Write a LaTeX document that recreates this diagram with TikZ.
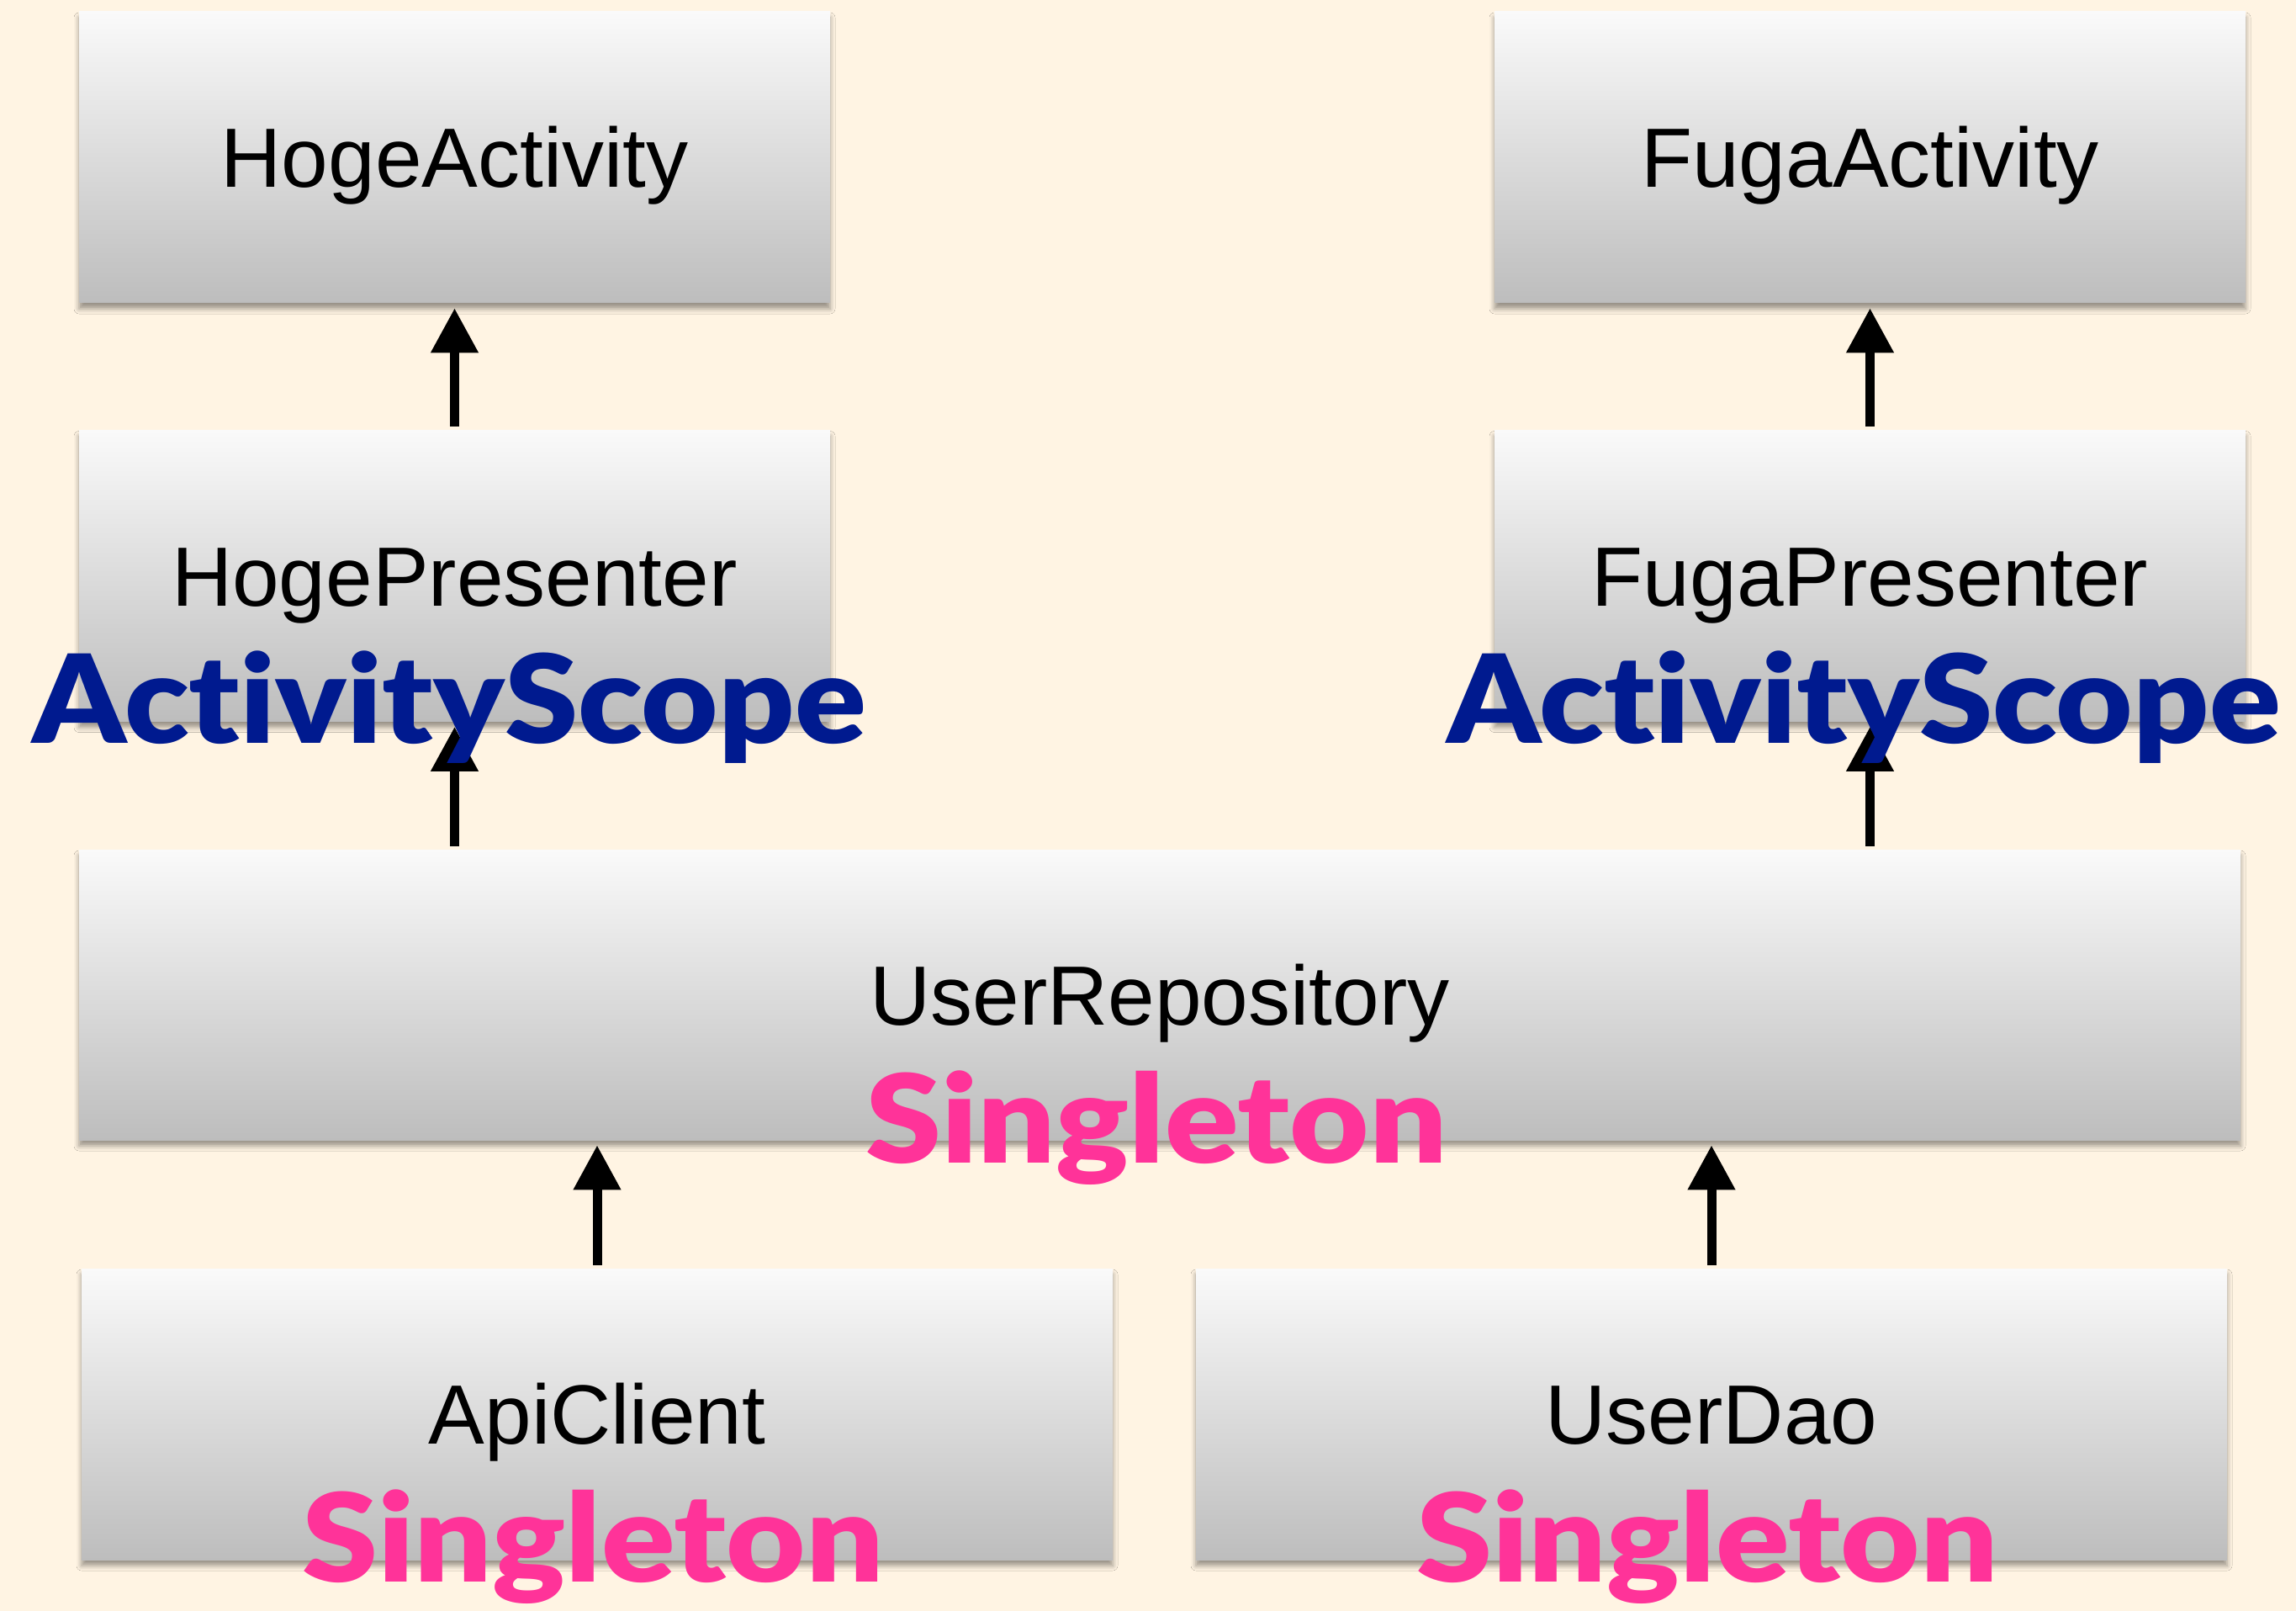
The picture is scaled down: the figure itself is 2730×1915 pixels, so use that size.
\documentclass[tikz,border=0pt]{standalone}
\usepackage{fontspec}
\setmainfont{Liberation Sans}
\newfontfamily\scopefont{Lato Black}[Ligatures=NoCommon, FakeStretch=1.08]
\newfontfamily\singlefont{Lato Black}[Ligatures=NoCommon, FakeStretch=1.115]
\usetikzlibrary{arrows.meta,shadows.blur}
\definecolor{paper}{RGB}{255,244,227}
\definecolor{boxtop}{RGB}{250,250,250}
\definecolor{boxbot}{RGB}{189,189,189}
\definecolor{scopeblue}{RGB}{0,26,143}
\definecolor{singlepink}{RGB}{255,51,153}
\begin{document}
\begin{tikzpicture}[x=0.5pt,y=-0.5pt,
  box/.style={rectangle, inner sep=0pt, draw=none,
    top color=boxtop, bottom color=boxbot,
    font=\fontsize{50}{60}\selectfont, text height=35.8pt, text depth=0pt,
    blur shadow={shadow xshift=0pt, shadow yshift=-3.5pt, shadow blur radius=3pt, shadow opacity=40}},
  narrowbox/.style={box, minimum width=446.5pt, minimum height=173pt},
  widebox/.style={box, minimum width=613pt, minimum height=173pt},
  arr/.style={line width=5.5pt, -{Triangle[length=26.5pt,width=27pt]},
    shorten <=2pt, shorten >=3pt},
  scopetag/.style={anchor=base, inner sep=0pt, text=scopeblue,
    font=\scopefont\fontsize{73}{80}\selectfont},
  singletag/.style={anchor=base, inner sep=0pt, text=singlepink,
    font=\singlefont\fontsize{73}{80}\selectfont}]
  % page
  \fill[paper] (0,0) rectangle (2730,1915);
  \useasboundingbox (0,0) rectangle (2730,1915);

  % classes
  \node[narrowbox] (ha) at (540.5,187) {HogeActivity};
  \node[narrowbox] (fa) at (2223.5,187) {FugaActivity};
  \node[narrowbox] (hp) at (540.5,684.5) {HogePresenter};
  \node[narrowbox] (fp) at (2223.5,684.5) {FugaPresenter};
  \node[box, minimum width=1285pt, minimum height=172.5pt] (repo) at (1379,1182.5) {UserRepository};
  \node[widebox] (api) at (710,1681) {ApiClient};
  \node[widebox] (dao) at (2035,1681) {UserDao};

  % dependencies
  \draw[arr] (hp.north) -- (ha.south);
  \draw[arr] (fp.north) -- (fa.south);
  \draw[arr] (repo.north -| hp.south) -- (hp.south);
  \draw[arr] (repo.north -| fp.south) -- (fp.south);
  \draw[arr] (api.north) -- (api.north |- repo.south);
  \draw[arr] (dao.north) -- (dao.north |- repo.south);

  % scope annotations
  \node[scopetag] (hs) at (534,883) {ActivityScope};
  \node[scopetag] (fs) at (2216,883) {ActivityScope};
  \node[singletag] (rs) at (1375,1382) {Singleton};
  \node[singletag] (as) at (705,1880) {Singleton};
  \node[singletag] (ds) at (2030,1880) {Singleton};
\end{tikzpicture}
\end{document}
